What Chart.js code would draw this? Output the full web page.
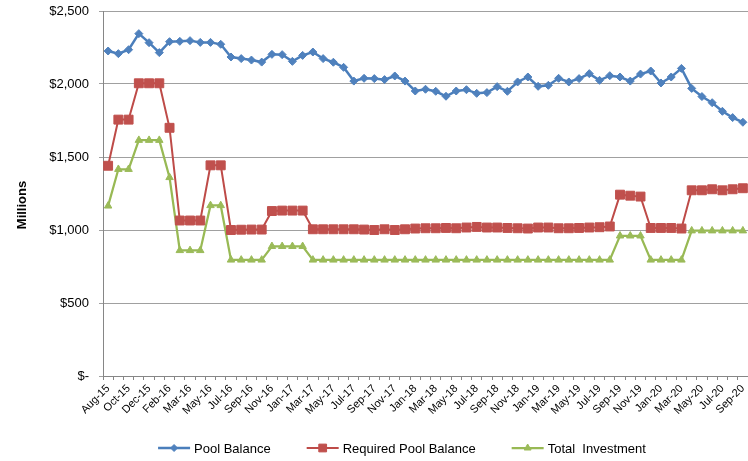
<!DOCTYPE html>
<html><head><meta charset="utf-8">
<script src="https://cdn.jsdelivr.net/npm/chart.js@4"></script>
<style>html,body{margin:0;padding:0;background:#fff}#wrap{width:748px;height:461px;position:relative}</style>
</head><body><div id="wrap"><canvas id="c" width="748" height="461"></canvas></div>
<script>
const categories = ["Aug-15","Sep-15","Oct-15","Nov-15","Dec-15","Jan-16","Feb-16","Feb-16","Mar-16","Apr-16",
"May-16","Jun-16","Jul-16","Aug-16","Sep-16","Oct-16","Nov-16","Dec-16","Jan-17","Feb-17",
"Mar-17","Apr-17","May-17","Jun-17","Jul-17","Aug-17","Sep-17","Oct-17","Nov-17","Dec-17",
"Jan-18","Feb-18","Mar-18","Apr-18","May-18","Jun-18","Jul-18","Aug-18","Sep-18","Oct-18",
"Nov-18","Dec-18","Jan-19","Feb-19","Mar-19","Apr-19","May-19","Jun-19","Jul-19","Aug-19",
"Sep-19","Oct-19","Nov-19","Dec-19","Jan-20","Feb-20","Mar-20","Apr-20","May-20","Jun-20",
"Jul-20","Aug-20","Sep-20"];
const poolBalance = [2226,2208,2235,2345,2283,2215,2290,2292,2297,2285,
2285,2272,2185,2174,2164,2150,2203,2201,2155,2196,
2219,2174,2149,2114,2020,2039,2037,2030,2055,2020,
1952,1964,1950,1916,1952,1961,1936,1941,1982,1950,
2014,2048,1984,1991,2039,2014,2037,2071,2025,2057,
2048,2020,2068,2089,2007,2048,2107,1970,1914,1872,
1813,1770,1738];
const requiredPoolBalance = [1440,1756,1756,2005,2005,2005,1700,1065,1065,1065,
1443,1443,1000,1002,1003,1003,1130,1133,1133,1133,
1005,1005,1005,1005,1005,1003,1000,1005,1000,1005,
1010,1012,1012,1014,1012,1017,1021,1017,1017,1014,
1012,1010,1017,1017,1012,1012,1014,1017,1019,1024,
1242,1235,1229,1014,1014,1014,1010,1272,1272,1279,
1272,1279,1286];
const totalInvestment = [1165,1416,1416,1615,1615,1615,1360,860,860,860,
1168,1168,795,795,795,795,888,888,888,888,
795,795,795,795,795,795,795,795,795,795,
795,795,795,795,795,795,795,795,795,795,
795,795,795,795,795,795,795,795,795,795,
960,960,960,795,795,795,795,995,995,995,
995,995,995];
const seriesNames = ["Pool Balance","Required Pool Balance","Total  Investment"];
const yAxisTitle = "Millions";
const yMin = 0, yMax = 2500, yStep = 500;

const FONT = '"Liberation Sans", Arial, sans-serif';

const legendPlugin = {
  id: 'excelLegend',
  afterDraw(chart) {
    const ctx = chart.ctx;
    ctx.save();
    ctx.font = '13px ' + FONT;
    const lineLen = 32, gapText = 4, gapItem = 36;
    const items = chart.data.datasets.map(ds => ({ds, w: ctx.measureText(ds.label).width}));
    const total = items.reduce((s, it) => s + lineLen + gapText + it.w, 0) + gapItem * (items.length - 1);
    let x = 402 - total / 2;
    const y = 448;
    items.forEach(it => {
      const ds = it.ds;
      ctx.strokeStyle = ds.borderColor;
      ctx.lineWidth = ds.borderWidth;
      ctx.beginPath(); ctx.moveTo(x, y); ctx.lineTo(x + lineLen, y); ctx.stroke();
      ctx.fillStyle = ds.pointBackgroundColor;
      ctx.strokeStyle = ds.pointBorderColor;
      ctx.lineWidth = 1;
      Chart.helpers.drawPoint(ctx, {pointStyle: ds.pointStyle, radius: ds.legendRadius, borderWidth: 1, rotation: 0}, x + lineLen / 2, y);
      ctx.fillStyle = '#000';
      ctx.textBaseline = 'middle';
      ctx.textAlign = 'left';
      ctx.fillText(ds.label, x + lineLen + gapText, y + 1);
      x += lineLen + gapText + it.w + gapItem;
    });
    ctx.restore();
  }
};

const yTitlePlugin = {
  id: 'yTitle',
  afterDraw(chart) {
    const ctx = chart.ctx;
    ctx.save();
    ctx.font = 'bold 13px ' + FONT;
    ctx.fillStyle = '#000';
    ctx.translate(22, 205);
    ctx.rotate(-Math.PI / 2);
    ctx.textAlign = 'center';
    ctx.textBaseline = 'middle';
    ctx.fillText(yAxisTitle, 0, 0);
    ctx.restore();
  }
};

function zeroPad(scale) {
  scale.paddingLeft = 0; scale.paddingRight = 0; scale.paddingTop = 0; scale.paddingBottom = 0;
}

new Chart(document.getElementById('c'), {
  type: 'line',
  data: {
    labels: categories,
    datasets: [
      {label: seriesNames[0], data: poolBalance, borderColor: '#4A7EBB', borderWidth: 2.5,
       pointStyle: 'rectRot', pointRadius: 4, legendRadius: 3.5, pointBackgroundColor: '#4F81BD', pointBorderColor: '#4F81BD', pointBorderWidth: 1, tension: 0, clip: false},
      {label: seriesNames[1], data: requiredPoolBalance, borderColor: '#BE4B48', borderWidth: 2,
       pointStyle: 'rect', pointRadius: 6.3, legendRadius: 5.5, pointBackgroundColor: '#C0504D', pointBorderColor: '#C0504D', pointBorderWidth: 1, tension: 0, clip: false},
      {label: seriesNames[2], data: totalInvestment, borderColor: '#98B954', borderWidth: 2.25,
       pointStyle: 'triangle', pointRadius: 4.3, legendRadius: 4, pointBackgroundColor: '#9BBB59', pointBorderColor: '#9BBB59', pointBorderWidth: 1, tension: 0, clip: false}
    ]
  },
  options: {
    responsive: false,
    animation: false,
    devicePixelRatio: 1,
    layout: {autoPadding: false, padding: {top: 11, left: 0, right: 0, bottom: 35}},
    plugins: {legend: {display: false}, tooltip: {enabled: false}, title: {display: false}},
    scales: {
      x: {
        type: 'category',
        offset: true,
        grid: {display: true, drawOnChartArea: false, drawTicks: true, tickLength: 4, offset: true, color: '#868686'},
        border: {display: true, color: '#868686', width: 1},
        ticks: {
          autoSkip: false, maxRotation: 45, minRotation: 45, padding: 2,
          color: '#000', font: {family: FONT, size: 11},
          callback: function(v, i) { return i % 2 === 0 ? this.getLabelForValue(v) : ''; }
        },
        afterFit(scale) { scale.height = 50; zeroPad(scale); }
      },
      y: {
        min: yMin, max: yMax,
        grid: {color: '#a0a0a0', lineWidth: 1, drawTicks: true, tickLength: 4},
        border: {display: true, color: '#868686', width: 1},
        ticks: {
          stepSize: yStep, padding: 10, color: '#000', font: {family: FONT, size: 13},
          callback: v => v === 0 ? '$-' : '$' + v.toLocaleString('en-US')
        },
        afterFit(scale) { scale.width = 103; zeroPad(scale); }
      }
    }
  },
  plugins: [legendPlugin, yTitlePlugin]
});
</script>
</body></html>
